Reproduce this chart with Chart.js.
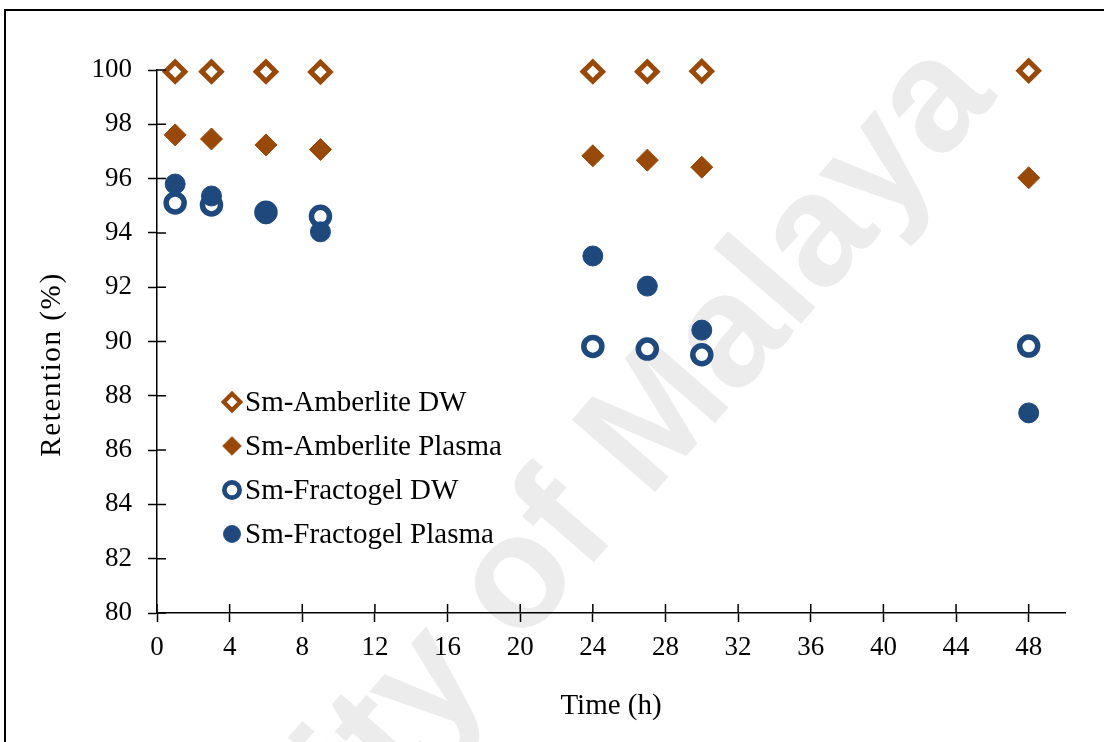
<!DOCTYPE html>
<html>
<head>
<meta charset="utf-8">
<title>Retention vs time</title>
<script src="https://cdn.jsdelivr.net/npm/chart.js@4.4.1/dist/chart.umd.min.js"></script>
<style>
    html, body { margin: 0; padding: 0; background: #ffffff; }
    #wrap { width: 1104px; height: 742px; }
</style>
</head>
<body>
<div id="wrap"><canvas id="retentionChart" width="1104" height="742"></canvas></div>
<script>
// Sampling times (h)
const hours = [1, 3, 6, 9, 24, 27, 30, 48];

// Retention (%)
const amberliteDW = [99.94, 99.94, 99.94, 99.93, 99.94, 99.94, 99.95, 99.97];
const amberlitePlasma = [97.61, 97.46, 97.24, 97.07, 96.84, 96.68, 96.42, 96.03];
const fractogelDW = [95.10, 95.03, 94.76, 94.61, 89.82, 89.72, 89.51, 89.83];
const fractogelPlasma = [95.80, 95.36, 94.70, 94.04, 93.15, 92.04, 90.42, 87.37];

const seriesNames = ['Sm-Amberlite DW', 'Sm-Amberlite Plasma', 'Sm-Fractogel DW', 'Sm-Fractogel Plasma'];

// Axis ticks
const xTicks = [0, 4, 8, 12, 16, 20, 24, 28, 32, 36, 40, 44, 48];
const yTicks = [80, 82, 84, 86, 88, 90, 92, 94, 96, 98, 100];

const ORANGE = '#984807';
const BLUE = '#1f497d';
const FONT = "'Liberation Serif', 'Times New Roman', serif";

const toPoints = values => hours.map((h, i) => ({ x: h, y: values[i] }));

// Frame and watermark behind everything
const backdropPlugin = {
    id: 'backdrop',
    beforeDraw(chart) {
        const ctx = chart.ctx;
        ctx.save();
        ctx.strokeStyle = '#000';
        ctx.lineWidth = 2;
        ctx.strokeRect(5, 10, 1200, 1000);

        ctx.translate(648, 500);
        ctx.rotate(-49 * Math.PI / 180);
        ctx.fillStyle = '#ececec';
        ctx.font = "bold 160px 'Liberation Sans', Arial, sans-serif";
        ctx.textBaseline = 'alphabetic';
        ctx.textAlign = 'left';
        ctx.fillText('Malaya', 0, 0);
        ctx.textAlign = 'right';
        ctx.fillText('University of ', 0, 0);
        ctx.restore();
    }
};

// Excel style cross ticks: draw the inner half of each tick mark, plus the y title
const innerTicksPlugin = {
    id: 'innerTicks',
    afterDraw(chart) {
        const ctx = chart.ctx;
        const { x, y } = chart.scales;
        ctx.save();
        ctx.strokeStyle = '#000';
        ctx.lineWidth = 1.5;
        ctx.beginPath();
        x.ticks.forEach(t => {
            const px = x.getPixelForValue(t.value);
            ctx.moveTo(px, y.bottom);
            ctx.lineTo(px, y.bottom - 9);
        });
        y.ticks.forEach(t => {
            const py = y.getPixelForValue(t.value);
            ctx.moveTo(x.left, py);
            ctx.lineTo(x.left + 9, py);
        });
        ctx.stroke();

        // y axis title (sits a little below the plot middle in the original)
        ctx.translate(52, (y.top + y.bottom) / 2 + 23);
        ctx.rotate(-Math.PI / 2);
        ctx.fillStyle = '#000';
        ctx.font = '29px ' + FONT;
        ctx.letterSpacing = '1.6px';
        ctx.textAlign = 'center';
        ctx.textBaseline = 'middle';
        ctx.fillText('Retention (%)', 0, 0);
        ctx.restore();
    }
};

// Legend sits inside the plot area
const insideLegendPlugin = {
    id: 'insideLegend',
    afterDraw(chart) {
        const ctx = chart.ctx;
        const area = chart.chartArea;
        const left = area.left + 75;
        const top = area.top + 332;
        const rowGap = 44;
        ctx.save();
        chart.data.datasets.forEach((ds, i) => {
            const cy = top + i * rowGap;
            ctx.fillStyle = ds.pointBackgroundColor;
            ctx.strokeStyle = ds.pointBorderColor;
            ctx.lineWidth = ds.pointBorderWidth * 0.85;
            Chart.helpers.drawPoint(ctx, {
                pointStyle: ds.pointStyle,
                radius: ds.pointRadius * 0.85,
                rotation: 0,
                borderWidth: ds.pointBorderWidth * 0.85
            }, left, cy);
            ctx.fillStyle = '#000';
            ctx.font = '29px ' + FONT;
            ctx.textAlign = 'left';
            ctx.textBaseline = 'middle';
            ctx.fillText(ds.label, left + 13, cy + 1);
        });
        ctx.restore();
    }
};

function initRetentionChart() {
    const ctx = document.getElementById('retentionChart');
    if (!ctx) {
        console.error('Chart canvas not found');
        return;
    }

    new Chart(ctx, {
        type: 'scatter',
        data: {
            datasets: [{
                label: seriesNames[0],
                data: toPoints(amberliteDW),
                pointStyle: 'rectRot',
                pointRadius: 9.7,
                pointBackgroundColor: '#ffffff',
                pointBorderColor: ORANGE,
                pointBorderWidth: 5,
                clip: false,
                order: 4
            }, {
                label: seriesNames[1],
                data: toPoints(amberlitePlasma),
                pointStyle: 'rectRot',
                pointRadius: 11,
                pointBackgroundColor: ORANGE,
                pointBorderColor: ORANGE,
                pointBorderWidth: 1,
                clip: false,
                order: 3
            }, {
                label: seriesNames[2],
                data: toPoints(fractogelDW),
                pointStyle: 'circle',
                pointRadius: 9,
                pointBackgroundColor: '#ffffff',
                pointBorderColor: BLUE,
                pointBorderWidth: 5.5,
                clip: false,
                order: 2
            }, {
                label: seriesNames[3],
                data: toPoints(fractogelPlasma),
                pointStyle: 'circle',
                pointRadius: 10,
                pointBackgroundColor: BLUE,
                pointBorderColor: BLUE,
                pointBorderWidth: 1,
                clip: false,
                order: 1
            }]
        },
        options: {
            responsive: false,
            animation: false,
            events: [],
            layout: { padding: { left: 34, right: 39, top: 70, bottom: 14 } },
            plugins: {
                legend: { display: false },
                tooltip: { enabled: false }
            },
            scales: {
                x: {
                    type: 'linear',
                    min: 0,
                    max: 50,
                    afterBuildTicks: scale => { scale.ticks = xTicks.map(v => ({ value: v })); },
                    afterFit: scale => { scale.height = 115; },
                    grid: {
                        drawOnChartArea: false,
                        drawTicks: true,
                        tickLength: 9,
                        tickWidth: 1.5,
                        tickColor: '#000'
                    },
                    border: { display: true, color: '#000', width: 1.5 },
                    ticks: {
                        color: '#000',
                        padding: 10,
                        maxRotation: 0,
                        font: { family: FONT, size: 27 }
                    },
                    title: {
                        display: true,
                        text: 'Time (h)',
                        color: '#000',
                        padding: { top: 4, bottom: 4 },
                        font: { family: FONT, size: 29 }
                    }
                },
                y: {
                    type: 'linear',
                    min: 80,
                    max: 100,
                    afterBuildTicks: scale => { scale.ticks = yTicks.map(v => ({ value: v })); },
                    afterFit: scale => { scale.width = 123; },
                    grid: {
                        drawOnChartArea: false,
                        drawTicks: true,
                        tickLength: 9,
                        tickWidth: 1.5,
                        tickColor: '#000'
                    },
                    border: { display: true, color: '#000', width: 1.5 },
                    ticks: {
                        color: '#000',
                        padding: 16,
                        font: { family: FONT, size: 27 }
                    },
                    title: { display: false }
                }
            }
        },
        plugins: [backdropPlugin, innerTicksPlugin, insideLegendPlugin]
    });
}

initRetentionChart();
</script>
</body>
</html>
